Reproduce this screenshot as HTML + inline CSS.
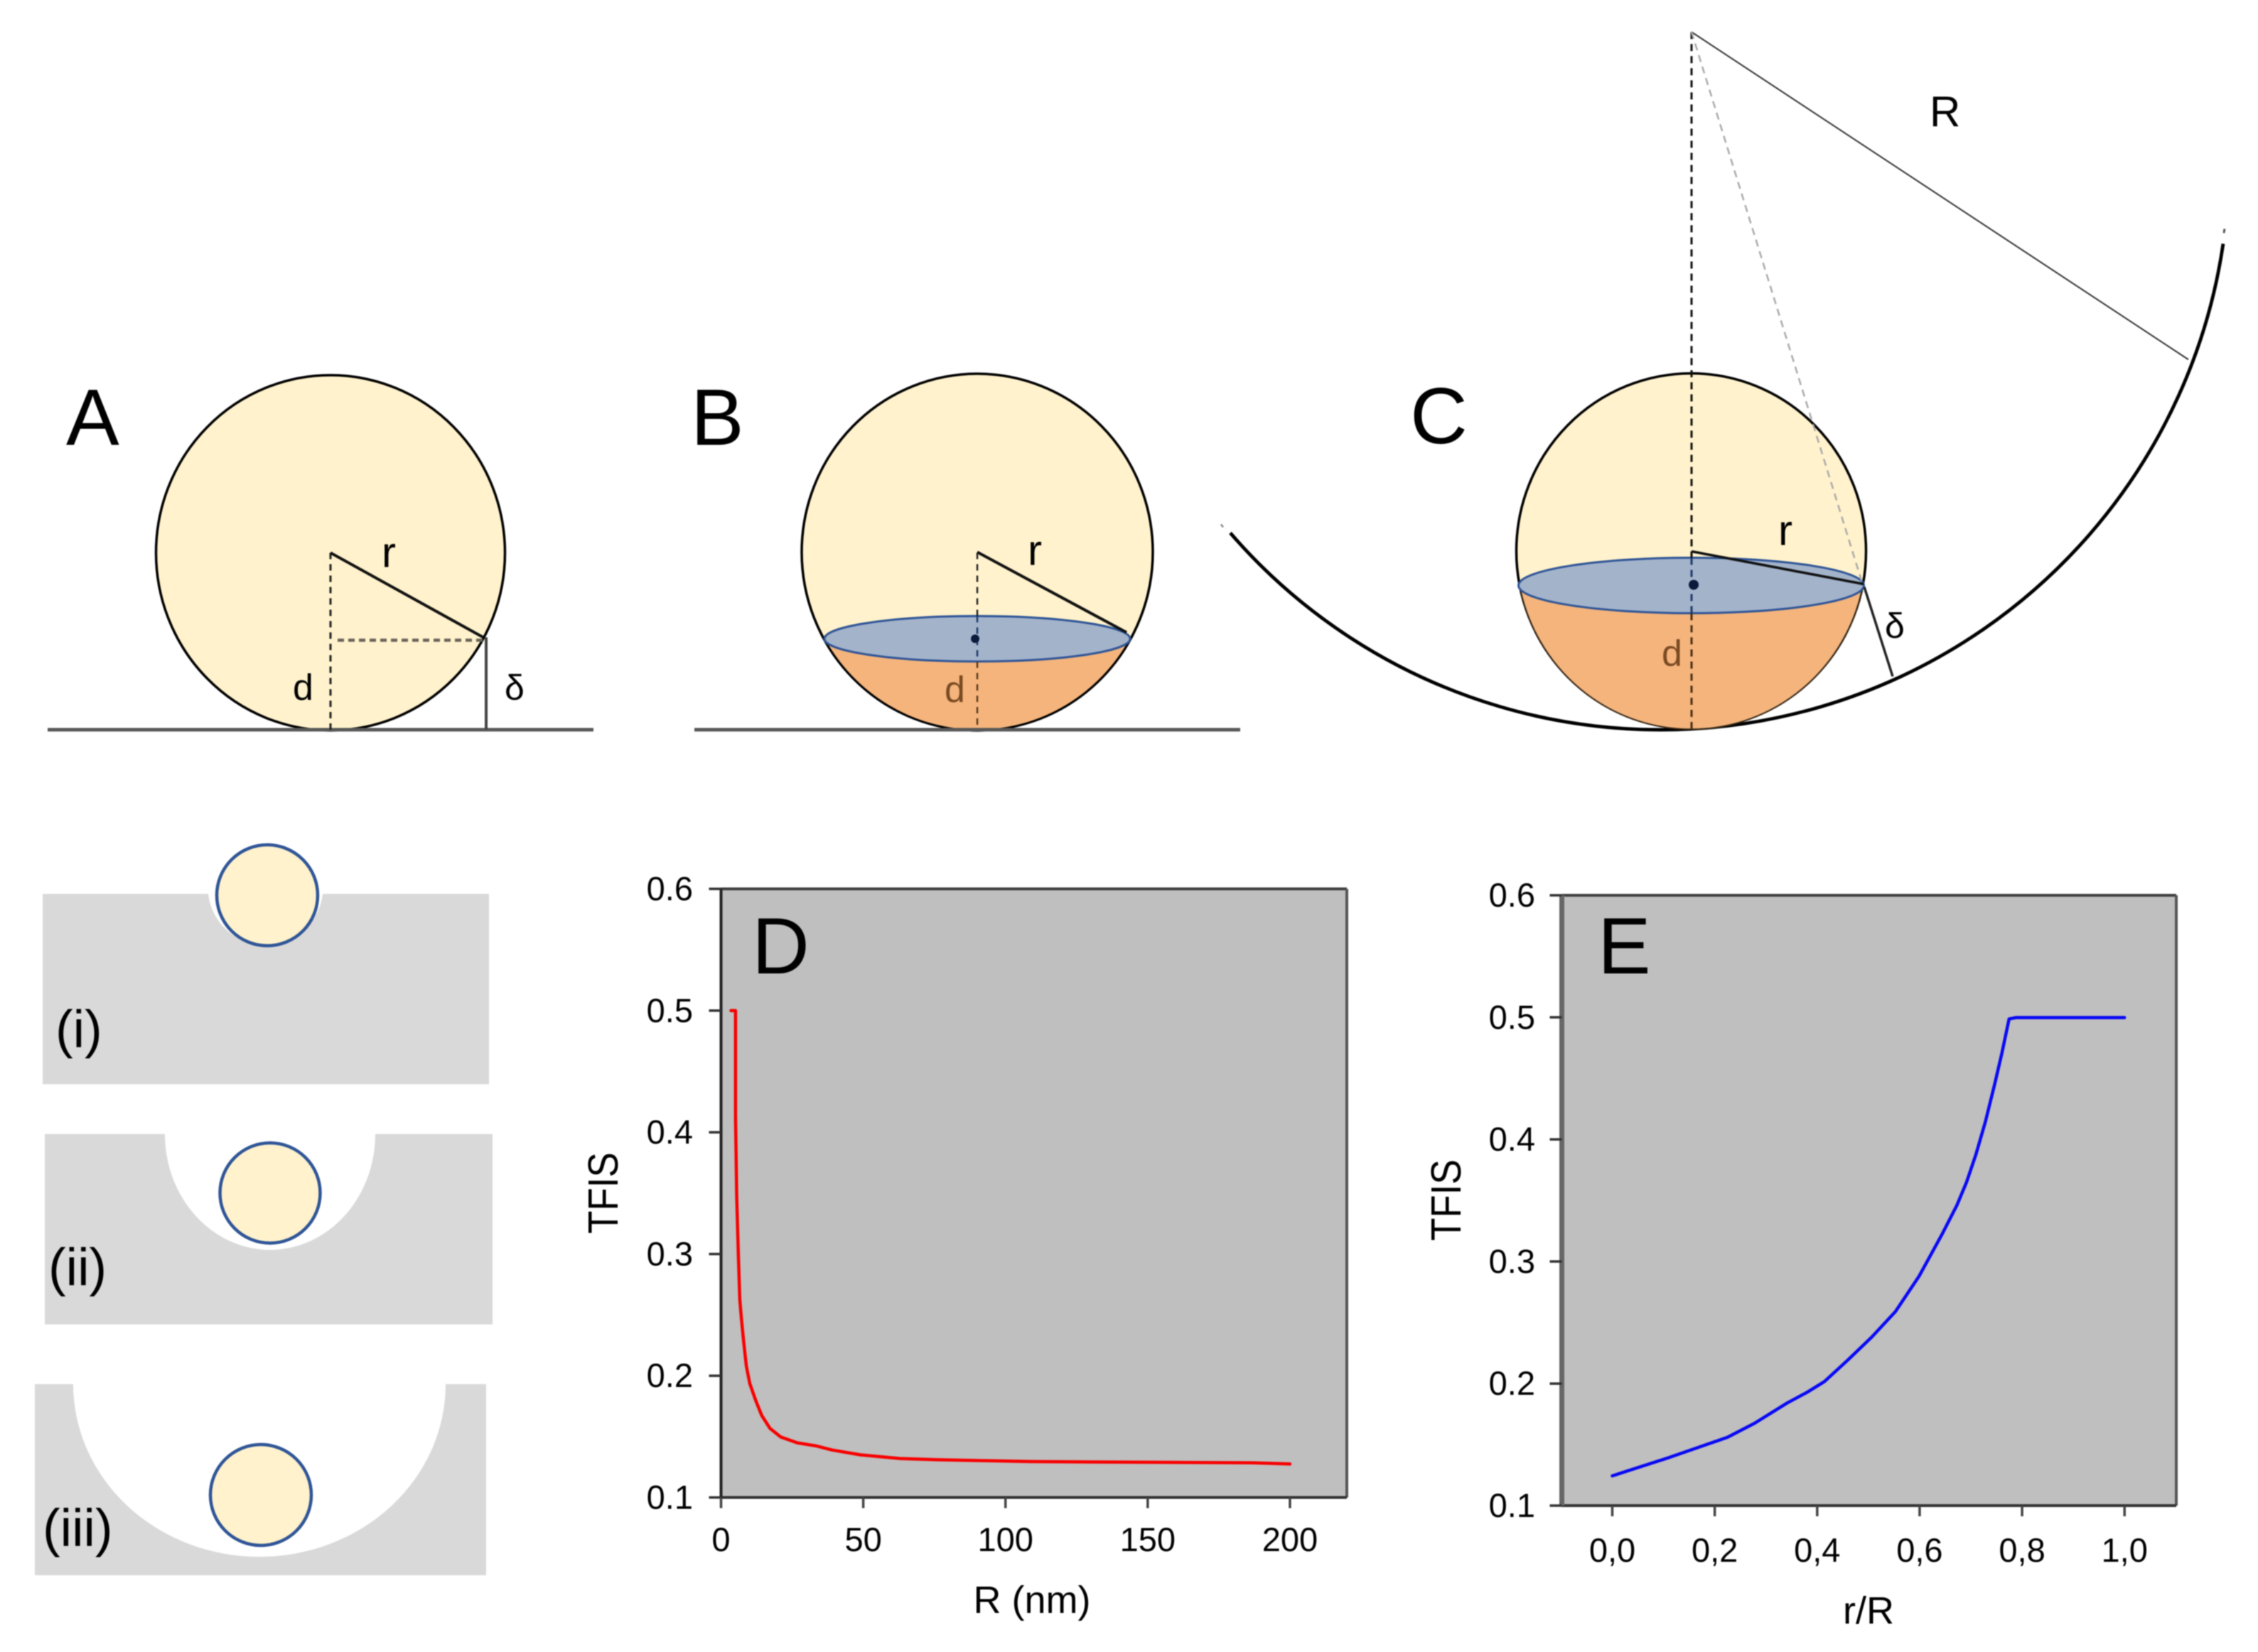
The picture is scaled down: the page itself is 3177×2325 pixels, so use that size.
<!DOCTYPE html>
<html lang="en">
<head>
<meta charset="utf-8">
<title>TFIS geometry and plots</title>
<style>
html,body{margin:0;padding:0;background:#fff;}
body{width:3177px;height:2325px;overflow:hidden;}
svg{display:block;filter:blur(0.9px);}
text{font-family:"Liberation Sans",sans-serif;fill:#000;}
</style>
</head>
<body>
<svg id="figure" xmlns="http://www.w3.org/2000/svg" width="3177" height="2325" viewBox="0 0 3177 2325">
  <rect x="0" y="0" width="3177" height="2325" fill="#ffffff"/>

  <g>
    <text x="93" y="626" font-size="112">A</text>
    <ellipse cx="465" cy="778" rx="245.5" ry="250" fill="#FFF2CC" stroke="#000" stroke-width="3.5"/>
    <line x1="67" y1="1027" x2="835" y2="1027" stroke="#595959" stroke-width="5"/>
    <line x1="465" y1="778" x2="465" y2="1027" stroke="#222" stroke-width="3" stroke-dasharray="9 7"/>
    <line x1="465" y1="778" x2="680" y2="897" stroke="#111" stroke-width="4"/>
    <line x1="475" y1="901" x2="680" y2="901" stroke="#6b6558" stroke-width="4.5" stroke-dasharray="9 6"/>
    <line x1="684" y1="897" x2="684" y2="1027" stroke="#444" stroke-width="4"/>
    <text x="537" y="798" font-size="60">r</text>
    <text x="412" y="985" font-size="52">d</text>
    <text x="710" y="985" font-size="50">δ</text>
  </g>

  <g>
    <text x="972" y="626" font-size="112">B</text>
    <ellipse cx="1375" cy="777" rx="247" ry="251" fill="#FFF2CC" stroke="#000" stroke-width="3.5"/>
    <path d="M1159 899 A247 251 0 0 0 1591 899 Z" fill="#F4B47C"/>
    <path d="M1159 899 A247 251 0 0 0 1591 899" fill="none" stroke="#000" stroke-width="3"/>
    <line x1="977" y1="1027" x2="1745" y2="1027" stroke="#595959" stroke-width="5"/>
    <ellipse cx="1375" cy="899" rx="215" ry="32" fill="#A3B3CA" stroke="#2F5597" stroke-width="3"/>
    <line x1="1375" y1="778" x2="1375" y2="867" stroke="#222" stroke-width="2.5" stroke-dasharray="9 7"/>
    <line x1="1375" y1="867" x2="1375" y2="931" stroke="#1d3a6a" stroke-width="2.5" stroke-dasharray="9 7"/>
    <line x1="1375" y1="931" x2="1375" y2="1027" stroke="#5a3a1c" stroke-width="2.5" stroke-dasharray="9 7"/>
    <line x1="1375" y1="777" x2="1585" y2="890" stroke="#111" stroke-width="4"/>
    <circle cx="1372" cy="899" r="6" fill="#0a1a3a"/>
    <text x="1446" y="795" font-size="60">r</text>
    <text x="1329" y="988" font-size="52" style="fill:#7a4a22">d</text>
  </g>

  <g>
    <text x="1984" y="624" font-size="112">C</text>
    <path d="M1731 750 A800 800 0 0 0 3128 343" fill="none" stroke="#000" stroke-width="4.8"/>
    <line x1="1718" y1="738" x2="1721" y2="742" stroke="#888" stroke-width="2.5"/>
    <line x1="3130" y1="322" x2="3129" y2="328" stroke="#555" stroke-width="3"/>
    <ellipse cx="2379.5" cy="775.5" rx="246" ry="250" fill="#FFF2CC" stroke="#000" stroke-width="3.5"/>
    <path d="M2138 824 A246 250 0 0 0 2621 824 Z" fill="#F4B47C" stroke="#3a2a18" stroke-width="2"/>
    <ellipse cx="2379.5" cy="824" rx="243" ry="39" fill="#A3B3CA" stroke="#2F5597" stroke-width="3"/>
    <line x1="2380" y1="45" x2="2380" y2="785" stroke="#111" stroke-width="3" stroke-dasharray="10 7"/>
    <line x1="2380" y1="785" x2="2380" y2="863" stroke="#1d3a6a" stroke-width="3" stroke-dasharray="10 7"/>
    <line x1="2380" y1="863" x2="2380" y2="1026" stroke="#4a2e14" stroke-width="3" stroke-dasharray="10 7"/>
    <line x1="2380" y1="45" x2="3079" y2="506" stroke="#333" stroke-width="2"/>
    <line x1="2380" y1="45" x2="2620" y2="820" stroke="#aaa" stroke-width="2.5" stroke-dasharray="10 7"/>
    <line x1="2380" y1="776" x2="2622" y2="822" stroke="#111" stroke-width="3.5"/>
    <line x1="2623" y1="826" x2="2663" y2="952" stroke="#222" stroke-width="3.5"/>
    <circle cx="2383" cy="823" r="7" fill="#0a1a3a"/>
    <text x="2502" y="767" font-size="60">r</text>
    <text x="2338" y="937" font-size="52" style="fill:#7a4a22">d</text>
    <text x="2652" y="898" font-size="50">δ</text>
    <text x="2715" y="178" font-size="60">R</text>
  </g>

  <g>
    <rect x="60" y="1258" width="628" height="268" fill="#D9D9D9"/>
    <path d="M293 1258 A81 81 0 0 0 454 1258 Z" fill="#fff"/>
    <circle cx="376" cy="1260" r="71" fill="#FFF2CC" stroke="#2F5597" stroke-width="4.5"/>
    <text x="78" y="1474" font-size="74">(i)</text>
  </g>
  <g>
    <rect x="63" y="1596" width="630" height="268" fill="#D9D9D9"/>
    <path d="M232 1596 A148 163 0 0 0 528 1596 Z" fill="#fff"/>
    <circle cx="380" cy="1679" r="70.5" fill="#FFF2CC" stroke="#2F5597" stroke-width="4.5"/>
    <text x="68" y="1809" font-size="74">(ii)</text>
  </g>
  <g>
    <rect x="49" y="1948" width="635" height="269" fill="#D9D9D9"/>
    <path d="M103 1948 A262 243 0 0 0 627 1948 Z" fill="#fff"/>
    <circle cx="367" cy="2104" r="71" fill="#FFF2CC" stroke="#2F5597" stroke-width="4.5"/>
    <text x="60" y="2176" font-size="74">(iii)</text>
  </g>

  <g id="chart-d"></g>
  <g id="chart-e"></g>
</svg>

<script>
// Chart D values
const dRadiusNm = [3.5, 5.1, 5.1, 5.5, 6.1, 6.6, 7.2, 8, 8.9, 10.1, 12.2, 14.3, 17.2, 21, 26.8, 33.5, 39, 49, 63, 76, 91, 109, 140, 187, 200];
const dTfis = [0.5, 0.5, 0.413, 0.348, 0.2987, 0.2626, 0.246, 0.227, 0.208, 0.1937, 0.1797, 0.1674, 0.1568, 0.1497, 0.1449, 0.1423, 0.139, 0.135, 0.132, 0.131, 0.1303, 0.1295, 0.129, 0.1285, 0.1275];
const dXTicks = [0, 50, 100, 150, 200];
const dXTickLabels = ['0', '50', '100', '150', '200'];
const dYTicks = [0.1, 0.2, 0.3, 0.4, 0.5, 0.6];
const dYTickLabels = ['0.1', '0.2', '0.3', '0.4', '0.5', '0.6'];

// Chart E values
const eRatio = [0, 0.108, 0.225, 0.278, 0.341, 0.3813, 0.4138, 0.46, 0.506, 0.5526, 0.599, 0.6447, 0.6727, 0.6914, 0.7099, 0.7285, 0.7468, 0.7607, 0.7746, 0.7884, 1.0];
const eTfis = [0.1244, 0.139, 0.156, 0.1675, 0.184, 0.1931, 0.2015, 0.2193, 0.2379, 0.2589, 0.288, 0.323, 0.346, 0.3648, 0.3876, 0.4146, 0.4457, 0.4708, 0.4987, 0.4998, 0.4998];
const eXTicks = [0, 0.2, 0.4, 0.6, 0.8, 1.0];
const eXTickLabels = ['0,0', '0,2', '0,4', '0,6', '0,8', '1,0'];
const eYTicks = [0.1, 0.2, 0.3, 0.4, 0.5, 0.6];
const eYTickLabels = ['0.1', '0.2', '0.3', '0.4', '0.5', '0.6'];

const SVGNS = 'http://www.w3.org/2000/svg';

function make(tag, parent, attrs, txt) {
  const el = document.createElementNS(SVGNS, tag);
  for (const k in attrs) el.setAttribute(k, attrs[k]);
  if (txt !== undefined) el.textContent = txt;
  parent.appendChild(el);
  return el;
}

function drawChart(cfg) {
  const g = document.getElementById(cfg.id);
  const sx = v => cfg.left + (v - cfg.xMin) / (cfg.xMax - cfg.xMin) * (cfg.right - cfg.left);
  const sy = v => cfg.bottom - (v - cfg.yMin) / (cfg.yMax - cfg.yMin) * (cfg.bottom - cfg.top);

  const plot = make('rect', g, {x: cfg.left, y: cfg.top, width: cfg.right - cfg.left, height: cfg.bottom - cfg.top, fill: '#BFBFBF'});
  
  

  const frameTop = make('line', g, {x1: cfg.left, y1: cfg.top, x2: cfg.right, y2: cfg.top, stroke: '#404040', 'stroke-width': 4});
  
  
  const frameRight = make('line', g, {x1: cfg.right, y1: cfg.top, x2: cfg.right, y2: cfg.bottom, stroke: '#555', 'stroke-width': 4});
  
  
  const axisX = make('line', g, {x1: cfg.left, y1: cfg.bottom, x2: cfg.right, y2: cfg.bottom, stroke: '#333', 'stroke-width': 4});
  
  
  const axisY = make('line', g, {x1: cfg.left, y1: cfg.top, x2: cfg.left, y2: cfg.bottom, stroke: cfg.yAxisColor, 'stroke-width': cfg.yAxisWidth});
  
  

  cfg.yTicks.forEach((v, i) => {
    const y = sy(v);
    const tick = make('line', g, {x1: cfg.left - 17, y1: y, x2: cfg.left, y2: y, stroke: '#333', 'stroke-width': 3.5});
    
    
    const label = make('text', g, {x: cfg.yLabelRight, y: y + 16, 'font-size': 47, 'text-anchor': 'end'}, cfg.yLabels[i]);
    
    
  });

  cfg.xTicks.forEach((v, i) => {
    const x = sx(v);
    const tick = make('line', g, {x1: x, y1: cfg.bottom, x2: x, y2: cfg.bottom + 15, stroke: '#444', 'stroke-width': 3.5});
    
    
    const label = make('text', g, {x: x, y: cfg.xLabelY, 'font-size': 47, 'text-anchor': 'middle'}, cfg.xLabels[i]);
    
    
  });

  const xTitle = make('text', g, {x: cfg.xTitleX, y: cfg.xTitleY, 'font-size': 54, 'text-anchor': 'middle'}, cfg.xTitle);
  
  

  const yTitle = make('text', g, {x: 0, y: 0, 'font-size': 53, 'text-anchor': 'middle', transform: 'translate(' + cfg.yTitleX + ' ' + cfg.yTitleY + ') rotate(-90) scale(1 1.12)'}, 'TFIS');
  
  

  const letter = make('text', g, {x: cfg.letterX, y: cfg.letterY, 'font-size': 112}, cfg.letter);
  
  

  const pts = cfg.xs.map((v, i) => sx(v).toFixed(1) + ',' + sy(cfg.ys[i]).toFixed(1)).join(' ');
  const curve = make('polyline', g, {points: pts, fill: 'none', stroke: cfg.color, 'stroke-width': 4.5, 'stroke-linejoin': 'round', 'stroke-linecap': 'round'});
  
  
}

drawChart({
  id: 'chart-d', left: 1014.5, right: 1895, top: 1251, bottom: 2107.5,
  xMin: 0, xMax: 220, yMin: 0.1, yMax: 0.6,
  xs: dRadiusNm, ys: dTfis, xTicks: dXTicks, xLabels: dXTickLabels, yTicks: dYTicks, yLabels: dYTickLabels,
  color: '#F80000', yAxisColor: '#222', yAxisWidth: 4,
  yLabelRight: 975, xLabelY: 2183, xTitle: 'R (nm)', xTitleX: 1452, xTitleY: 2270,
  yTitleX: 869, yTitleY: 1679, letter: 'D', letterX: 1058, letterY: 1370
});

drawChart({
  id: 'chart-e', left: 2197.5, right: 3062, top: 1260, bottom: 2119,
  xMin: -0.0985, xMax: 1.101, yMin: 0.1, yMax: 0.6,
  xs: eRatio, ys: eTfis, xTicks: eXTicks, xLabels: eXTickLabels, yTicks: eYTicks, yLabels: eYTickLabels,
  color: '#0808F4', yAxisColor: '#666', yAxisWidth: 7,
  yLabelRight: 2160, xLabelY: 2198, xTitle: 'r/R', xTitleX: 2629, xTitleY: 2285,
  yTitleX: 2055, yTitleY: 1689, letter: 'E', letterX: 2248, letterY: 1370
});
</script>
</body>
</html>
